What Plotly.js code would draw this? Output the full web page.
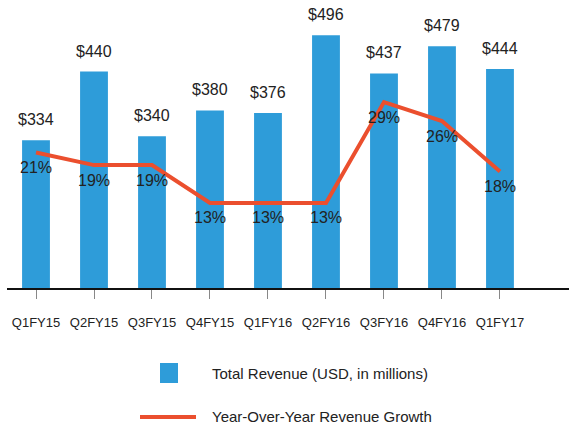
<!DOCTYPE html>
<html><head><meta charset="utf-8">
<script src="https://cdn.plot.ly/plotly-3.0.1.min.js"></script>
<style>html,body{margin:0;padding:0;background:#fff}#chart{width:569px;height:427px}</style>
</head><body><div id="chart"></div>
<script>
var quarters = ["Q1FY15","Q2FY15","Q3FY15","Q4FY15","Q1FY16","Q2FY16","Q3FY16","Q4FY16","Q1FY17"];
var revenue = [334, 440, 340, 380, 376, 496, 437, 479, 444];
var growth = [21, 19, 19, 13, 13, 13, 29, 26, 18];
var revenueLabels = ["$334","$440","$340","$380","$376","$496","$437","$479","$444"];
var growthLabels = ["21%","19%","19%","13%","13%","13%","29%","26%","18%"];

var blue = "#2E9CD9", red = "#EB4F2E", txt = "#222222";
var font = "Liberation Sans, Arial, sans-serif";

var traces = [
  {type:"bar", x:quarters, y:revenue, marker:{color:blue}, width:0.48, hoverinfo:"skip", showlegend:false},
  {type:"scatter", mode:"lines", x:quarters, y:growth, yaxis:"y2", line:{color:red, width:4}, hoverinfo:"skip", showlegend:false}
];

var annotations = [];
quarters.forEach(function(q,i){
  annotations.push({x:q, y:revenue[i], xref:"x", yref:"y", text:revenueLabels[i], showarrow:false,
    yanchor:"bottom", yshift:10, font:{family:font, size:16, color:txt}});
  annotations.push({x:q, y:growth[i], xref:"x", yref:"y2", text:growthLabels[i], showarrow:false,
    yanchor:"middle", yshift:-15, font:{family:font, size:16, color:txt}});
});
annotations.push({xref:"paper", yref:"paper", x:(210-7)/562, y:(427-373-139)/288, xanchor:"left", yanchor:"middle",
  text:"Total Revenue (USD, in millions)", showarrow:false, font:{family:font, size:15, color:txt}});
annotations.push({xref:"paper", yref:"paper", x:(210-7)/562, y:(427-416-139)/288, xanchor:"left", yanchor:"middle",
  text:"Year-Over-Year Revenue Growth", showarrow:false, font:{family:font, size:15, color:txt}});

var shapes = [
  {type:"rect", xref:"paper", yref:"paper", x0:(160-7)/562, x1:(178-7)/562, y0:(288-383)/288, y1:(288-363)/288,
    fillcolor:blue, line:{width:0}},
  {type:"line", xref:"paper", yref:"paper", x0:(140-7)/562, x1:(196-7)/562, y0:(288-417)/288, y1:(288-417)/288,
    line:{color:red, width:4}}
];

var layout = {
  width:569, height:427,
  margin:{l:7, r:0, t:0, b:139, pad:0},
  paper_bgcolor:"#fff", plot_bgcolor:"#fff",
  font:{family:font, color:txt},
  xaxis:{type:"category", range:[-0.5, 9.19], showgrid:false, zeroline:false,
    showline:true, linecolor:"#111", linewidth:2,
    ticks:"outside", ticklen:9, tickcolor:"#888", tickwidth:1, ticklabelstandoff:12,
    tickfont:{family:font, size:13, color:txt}, fixedrange:true},
  yaxis:{range:[106, 550.4], visible:false, showgrid:false, zeroline:false, fixedrange:true},
  yaxis2:{range:[-0.5, 45.2], overlaying:"y", visible:false, showgrid:false, zeroline:false, fixedrange:true},
  annotations:annotations,
  shapes:shapes,
  showlegend:false
};
Plotly.newPlot("chart", traces, layout, {displayModeBar:false, staticPlot:true});
</script></body></html>
